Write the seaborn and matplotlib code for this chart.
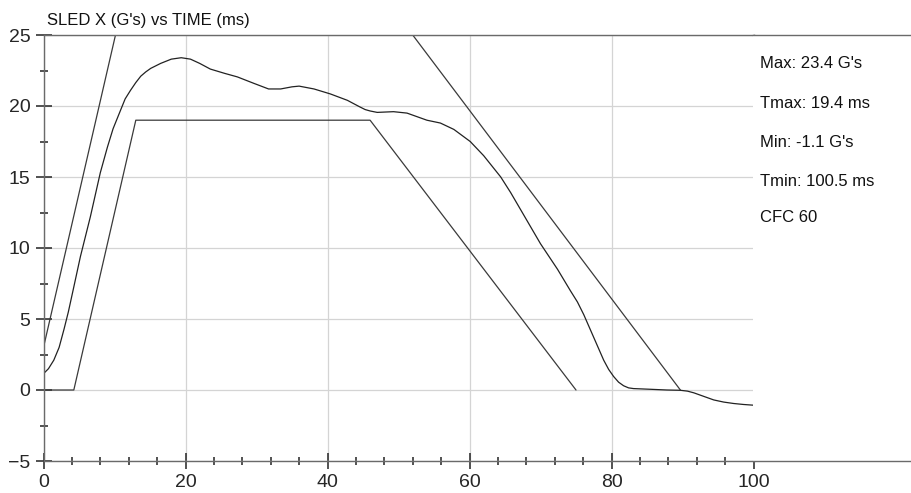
import matplotlib
matplotlib.use("Agg")
import matplotlib.pyplot as plt
import seaborn as sns
import pandas as pd
from matplotlib.ticker import MultipleLocator, FixedLocator

# Sled acceleration trace (time in ms, acceleration in G)
time_ms = [0, 0.7, 1.45, 2.2, 2.9, 3.5, 4.2, 5.2, 6.6, 8.0, 9.0, 9.8, 10.85,
           11.5, 12.25, 13.0, 13.7, 14.4, 15.1, 16.5, 18.0, 19.4, 20.7, 22.0,
           23.5, 25.5, 27.3, 29.6, 31.7, 33.4, 35.0, 36.0, 38.1, 40.4, 42.8,
           44.5, 45.3, 46.0, 47.0, 49.3, 51.2, 54.0, 55.9, 57.8, 60.1, 62.0,
           63.2, 64.4, 65.8, 67.2, 68.6, 70.0, 71.2, 72.4, 74.2, 75.2, 76.1,
           76.8, 77.5, 78.2, 78.9, 79.6, 80.3, 81.0, 81.7, 82.4, 83.1, 85.5,
           87.8, 89.7, 90.7, 91.6, 93.0, 94.4, 95.8, 97.2, 98.6, 100.0]
sled_g = [1.15, 1.5, 2.1, 3.0, 4.3, 5.5, 7.1, 9.4, 12.2, 15.3, 17.1, 18.4, 19.7,
          20.5, 21.1, 21.65, 22.1, 22.4, 22.65, 23.0, 23.3, 23.4, 23.3, 23.0,
          22.6, 22.3, 22.05, 21.6, 21.2, 21.2, 21.35, 21.4, 21.2, 20.85, 20.4,
          19.95, 19.75, 19.65, 19.55, 19.6, 19.5, 19.0, 18.8, 18.35, 17.5, 16.5,
          15.75, 15.0, 13.9, 12.7, 11.5, 10.3, 9.4, 8.5, 7.0, 6.2, 5.3,
          4.5, 3.7, 2.9, 2.1, 1.45, 0.95, 0.55, 0.3, 0.15, 0.1, 0.05,
          0.0, -0.02, -0.08, -0.2, -0.45, -0.7, -0.85, -0.95, -1.02, -1.07]

# Pulse corridor limits
upper_t = [0.0, 10.14, 52.0, 89.7]
upper_g = [3.0, 25.0, 25.0, 0.0]
lower_t = [0.0, 4.27, 13.0, 46.0, 75.0]
lower_g = [0.0, 0.0, 19.0, 19.0, 0.0]

stats = ["Max: 23.4 G's", "Tmax: 19.4 ms", "Min: -1.1 G's", "Tmin: 100.5 ms", "CFC 60"]
x_ticks = [0, 20, 40, 60, 80, 100]
y_ticks = [-5, 0, 5, 10, 15, 20, 25]

sns.set_style("white")
plt.rcParams["font.family"] = ["Liberation Sans", "DejaVu Sans"]
plt.rcParams["xtick.bottom"] = True
plt.rcParams["ytick.left"] = True

W, H = 912, 493
fig = plt.figure(figsize=(W / 100, H / 100), dpi=100)

# plot box edges in pixels (half-pixel offsets keep 1 px ticks crisp)
left, right, top, bottom = 43.5, 753.5, 35, 461
ax = fig.add_axes([left / W, 1 - bottom / H, (right - left) / W, (bottom - top) / H])
side = fig.add_axes([right / W, 1 - bottom / H, (W - right) / W, (bottom - top) / H])

trace = pd.DataFrame({"t": time_ms, "g": sled_g})
upper = pd.DataFrame({"t": upper_t, "g": upper_g})
lower = pd.DataFrame({"t": lower_t, "g": lower_g})

sns.lineplot(data=upper, x="t", y="g", ax=ax, sort=False, estimator=None,
             color="#3a3a3a", linewidth=0.9)
sns.lineplot(data=lower, x="t", y="g", ax=ax, sort=False, estimator=None,
             color="#3a3a3a", linewidth=0.9)
sns.lineplot(data=trace, x="t", y="g", ax=ax, sort=False, estimator=None,
             color="#222222", linewidth=0.9)

ax.set_xlim(0, 100)
ax.set_ylim(-5, 25)
ax.xaxis.set_major_locator(FixedLocator(x_ticks))
ax.yaxis.set_major_locator(FixedLocator(y_ticks))
ax.xaxis.set_minor_locator(MultipleLocator(4))
ax.yaxis.set_minor_locator(MultipleLocator(2.5))
ax.tick_params(axis="both", which="major", direction="inout", length=12,
               width=1.2, color="#333333", labelsize=14)
ax.tick_params(axis="both", which="minor", direction="inout", length=6,
               width=1.2, color="#333333")
ax.set_xlabel("")
ax.set_ylabel("")

ax.xaxis.grid(True, which="major", color="#d4d4d4", linewidth=0.9)
ax.yaxis.grid(True, which="major", color="#d4d4d4", linewidth=0.9)
ax.set_axisbelow("line")

spine_col = "#6a6a6a"
for s in ax.spines.values():
    s.set_color(spine_col)
    s.set_linewidth(1.0)

# Summary panel to the right of the plot
side.set_xticks([])
side.set_yticks([])
side.spines["left"].set_visible(False)
side.spines["right"].set_visible(False)
for name in ("top", "bottom"):
    side.spines[name].set_color(spine_col)
    side.spines[name].set_linewidth(1.0)

text_y = [63, 103, 142, 181, 217]
for label, py in zip(stats, text_y):
    fig.text(760 / W, 1 - py / H, label, fontsize=12, color="#111111",
             ha="left", va="center")

fig.text(47 / W, 1 - 20 / H, "SLED X (G's) vs TIME (ms)", fontsize=12,
         color="#111111", ha="left", va="center")

fig.savefig("out.png", dpi=100)
